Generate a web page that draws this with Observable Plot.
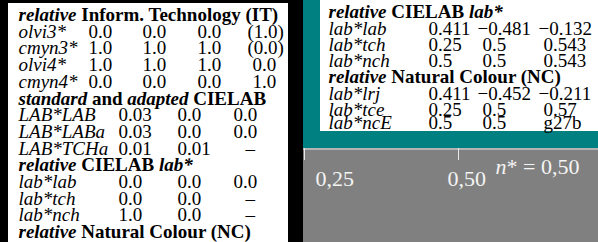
<!DOCTYPE html>
<html><head><meta charset="utf-8">
<script src="https://cdn.jsdelivr.net/npm/d3@7"></script>
<script src="https://cdn.jsdelivr.net/npm/@observablehq/plot@0.6"></script>
<style>html,body{margin:0;padding:0;background:#000;}svg{display:block}</style>
</head><body><div id="chart"></div>
<script>
// ---------- data ----------
const headersLeft = ["_relative_ Inform. Technology (IT)", "_standard_ and _adapted_ CIELAB", "_relative_ CIELAB _lab*_", "_relative_ Natural Colour (NC)"];
const itLabels = ["olvi3*", "cmyn3*", "olvi4*", "cmyn4*"];
const itValues = [["0.0","0.0","0.0","(1.0)"],["1.0","1.0","1.0","(0.0)"],["1.0","1.0","1.0","0.0"],["0.0","0.0","0.0","1.0"]];
const stdLabels = ["LAB*LAB", "LAB*LABa", "LAB*TCHa"];
const stdValues = [["0.03","0.0","0.0"],["0.03","0.0","0.0"],["0.01","0.01","–"]];
const relLabLabels = ["lab*lab", "lab*tch", "lab*nch"];
const relLabValuesLeft = [["0.0","0.0","0.0"],["0.0","0.0","–"],["1.0","0.0","–"]];

const headersRight = ["_relative_ CIELAB _lab*_", "_relative_ Natural Colour (NC)"];
const cutLabel = "LAB*TCHa";
const cutValues = ["0.25","0.5","0.543"];
const relLabValuesRight = [["0.411","−0.481","−0.132"],["0.25","0.5","0.543"],["0.5","0.5","0.543"]];
const ncLabels = ["lab*lrj", "lab*tce", "lab*ncE"];
const ncValues = [["0.411","−0.452","−0.211"],["0.25","0.5","0.57"],["0.5","0.5","g27b"]];

const nTicks = [0.25, 0.50];
const nTickLabels = ["0,25", "0,50"];
const nNote = "_n_* = 0,50";

// ---------- layout ----------
const W = 598, H = 242, FS = 19;
const panels = [
  {x1: 8, x2: 288, y1: 3, y2: 242, fill: "#ffffff"},
  {x1: 303, x2: 598, y1: 0, y2: 148, fill: "#008080"},
  {x1: 320, x2: 598, y1: -5, y2: 131, fill: "#ffffff"},
  {x1: 303, x2: 598, y1: 148, y2: 242, fill: "#808080"}
];
const L = {labelX: 18, y0: 20.5, pitch: 16.7, itCols: [88, 142, 197, 252], labCols: [118, 177, 233]};
const R = {labelX: 328, baselines: [-1.5, 17, 34, 50, 66, 82, 99, 115, 128], cols: [428, 482, 543]};
function shift(v) { return v === "–" ? 12 : (v[0] === "(" || v[0] === "−") ? -5 : 0; }

// build left rows
const leftSeq = [];
leftSeq.push({h: headersLeft[0]});
itLabels.forEach((l, i) => leftSeq.push({label: l, values: itValues[i], cols: L.itCols}));
leftSeq.push({h: headersLeft[1]});
stdLabels.forEach((l, i) => leftSeq.push({label: l, values: stdValues[i], cols: L.labCols}));
leftSeq.push({h: headersLeft[2]});
relLabLabels.forEach((l, i) => leftSeq.push({label: l, values: relLabValuesLeft[i], cols: L.labCols}));
leftSeq.push({h: headersLeft[3]});
leftSeq.forEach((r, i) => { r.y = L.y0 + i * L.pitch; r.x = L.labelX; });

const rightSeq = [];
rightSeq.push({label: cutLabel, values: cutValues});
rightSeq.push({h: headersRight[0]});
relLabLabels.forEach((l, i) => rightSeq.push({label: l, values: relLabValuesRight[i]}));
rightSeq.push({h: headersRight[1]});
ncLabels.forEach((l, i) => rightSeq.push({label: l, values: ncValues[i]}));
rightSeq.forEach((r, i) => { r.y = R.baselines[i]; r.x = R.labelX; r.cols = R.cols; });

const all = leftSeq.concat(rightSeq);
const headers = all.filter(r => r.h);
const labels = all.filter(r => r.label);
const values = [];
labels.forEach(r => r.values.forEach((v, j) => values.push({x: r.cols[j] + shift(v), y: r.y, v})));

const nScale = d3.scaleLinear().domain([0.25, 0.5]).range([304, 458]);
const tickLabelDx = [11, -11];

const common = {textAnchor: "start", lineAnchor: "bottom", fontSize: FS, fill: "#000"};
const chart = Plot.plot({
  width: W, height: H, margin: 0,
  x: {type: "identity", axis: null}, y: {type: "identity", axis: null},
  style: {fontFamily: "'Liberation Serif', 'Times New Roman', serif", background: "#000", overflow: "hidden"},
  marks: [
    Plot.rect(panels, {x1: "x1", x2: "x2", y1: "y1", y2: "y2", fill: "fill"}),
    Plot.ruleY([148.5], {x1: 303, x2: 598, stroke: "#e8e8e8", strokeWidth: 1}),
    Plot.ruleX(nTicks, {x: d => nScale(d), y1: 148, y2: 160, stroke: "#e8e8e8"}),
    Plot.text(nTicks, {x: (d, i) => nScale(d) + tickLabelDx[i], y: 185, text: (d, i) => nTickLabels[i], textAnchor: "start", lineAnchor: "bottom", fontSize: 22, fill: "#f4f4f4"}),
    Plot.text([nNote], {x: 495, y: 173, text: d => d, textAnchor: "start", lineAnchor: "bottom", fontSize: 22, fill: "#f4f4f4"}),
    Plot.text(headers, {x: "x", y: "y", text: "h", ...common, fontWeight: "bold"}),
    Plot.text(labels, {x: "x", y: "y", text: "label", ...common, fontStyle: "italic"}),
    Plot.text(values, {x: "x", y: "y", text: "v", ...common})
  ]
});
chart.querySelectorAll("text").forEach(t => {
  const s = t.textContent;
  if (!s.includes("_")) return;
  t.textContent = "";
  s.split("_").forEach((part, k) => {
    if (!part) return;
    const ts = document.createElementNS("http://www.w3.org/2000/svg", "tspan");
    if (k % 2 === 1) ts.setAttribute("font-style", "italic");
    ts.textContent = part;
    t.appendChild(ts);
  });
});
document.getElementById("chart").appendChild(chart);
</script></body></html>
